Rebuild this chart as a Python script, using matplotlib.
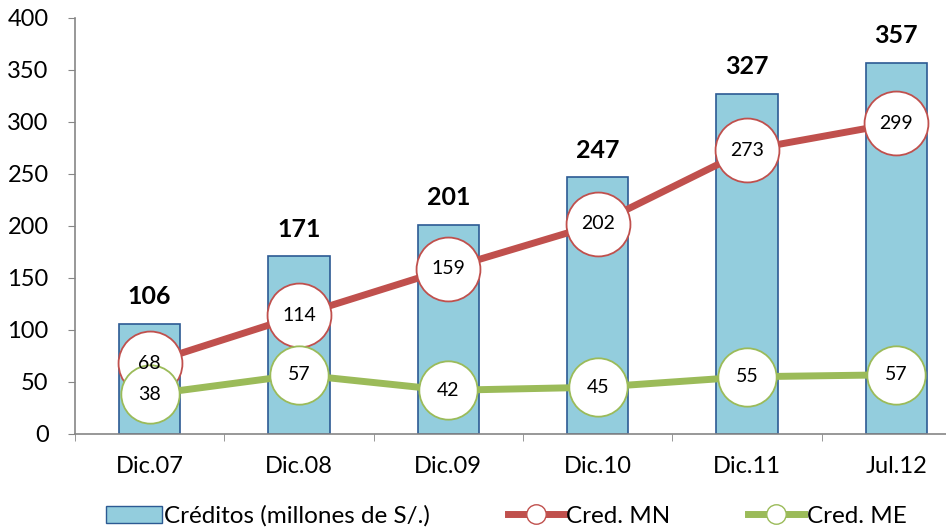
import numpy as np
import matplotlib.pyplot as plt
from matplotlib.lines import Line2D
from matplotlib.patches import Patch

plt.rcParams['font.family'] = ['Lato', 'DejaVu Sans']

categorias = ["Dic.07", "Dic.08", "Dic.09", "Dic.10", "Dic.11", "Jul.12"]
creditos = [106, 171, 201, 247, 327, 357]
cred_mn = [68, 114, 159, 202, 273, 299]
cred_me = [38, 57, 42, 45, 55, 57]

x = np.arange(len(categorias))

fig = plt.figure(figsize=(9.46, 5.30), dpi=100)
ax = fig.add_axes([75 / 946, 96 / 530, 896 / 946, 416 / 530])

ax.bar(x, creditos, width=0.41, color="#93CDDD", edgecolor="#2C5A93", linewidth=1.2, zorder=2)
for xi, v in zip(x, creditos):
    ax.text(xi, v + 15, str(v), ha="center", va="bottom", fontsize=18, fontweight="bold")

ax.plot(x, cred_mn, color="#C0504D", linewidth=5, marker="o", markersize=46,
        markerfacecolor="white", markeredgecolor="#C0504D", markeredgewidth=1.3, zorder=3)
ax.plot(x, cred_me, color="#9BBB59", linewidth=5, marker="o", markersize=42,
        markerfacecolor="white", markeredgecolor="#9BBB59", markeredgewidth=1.3, zorder=4)
for xi, v in zip(x, cred_mn):
    ax.text(xi, v, str(v), ha="center", va="center", fontsize=14, zorder=5)
for xi, v in zip(x, cred_me):
    ax.text(xi, v, str(v), ha="center", va="center", fontsize=14, zorder=5)

ax.set_xlim(-0.5, len(categorias) - 0.5)
ax.set_ylim(0, 400)
ax.set_yticks(range(0, 401, 50))
ax.set_xticks(x)
ax.set_xticklabels(categorias)
ax.set_xticks(np.arange(-0.5, len(categorias), 1), minor=True)
ax.tick_params(axis="x", which="major", length=0, pad=16, labelsize=17)
ax.tick_params(axis="x", which="minor", length=5, color="#868686")
ax.tick_params(axis="y", length=5, color="#868686", labelsize=17, pad=14)

for s in ["top", "right"]:
    ax.spines[s].set_visible(False)
for s in ["left", "bottom"]:
    ax.spines[s].set_color("#868686")
    ax.spines[s].set_linewidth(1.2)

handles = [
    Patch(facecolor="#93CDDD", edgecolor="#2C5A93", label="Créditos (millones de S/.)"),
    Line2D([0], [0], color="#C0504D", linewidth=5, marker="o", markersize=14,
           markerfacecolor="white", markeredgecolor="#C0504D", label="Cred. MN"),
    Line2D([0], [0], color="#9BBB59", linewidth=5, marker="o", markersize=14,
           markerfacecolor="white", markeredgecolor="#9BBB59", label="Cred. ME"),
]
fig.legend(handles=handles, loc="center", bbox_to_anchor=(0.535, 0.026), ncol=3, frameon=False,
           fontsize=17.5, handlelength=2.3, handletextpad=0.1, columnspacing=3.2)

fig.savefig("out.png", dpi=100)
